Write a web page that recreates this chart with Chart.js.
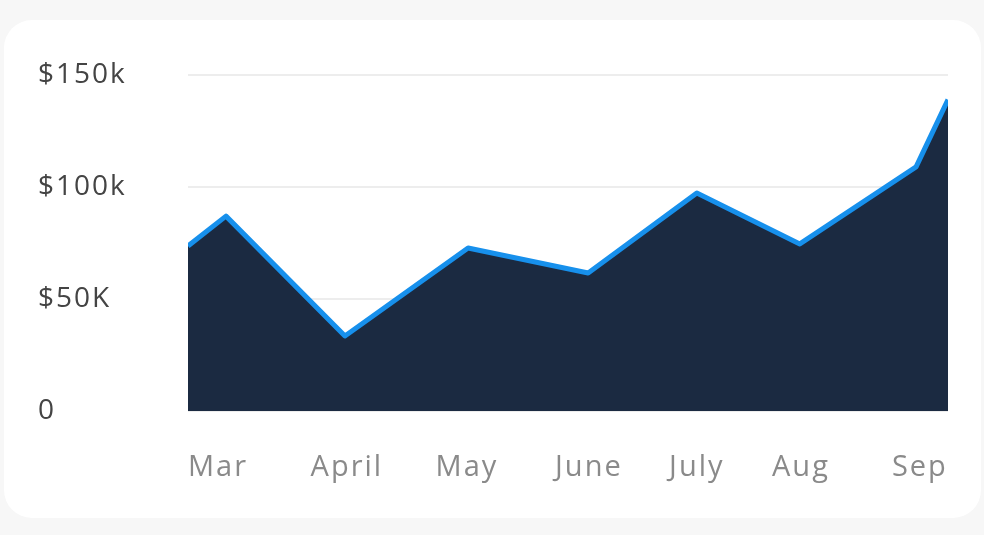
<!DOCTYPE html>
<html>
<head>
<meta charset="utf-8">
<script src="https://cdn.jsdelivr.net/npm/chart.js@4.4.1/dist/chart.umd.min.js"></script>
<style>
    html, body { margin: 0; padding: 0; background: #f7f7f7; }
    .card {
        position: absolute; left: 4px; top: 20px; width: 977px; height: 498px;
        background: #fff; border-radius: 28px;
    }
    .wrap { position: absolute; left: 0; top: 0; width: 984px; height: 535px; }
</style>
</head>
<body>
<div class="card"></div>
<div class="wrap"><canvas id="revenueChart" width="984" height="535"></canvas></div>
<script>
// position along the time axis (0 = start of Mar window, 20 = end of Sep)
const xPositions = [0, 1, 4.13, 7.37, 10.53, 13.39, 16.1, 19.16, 20];
const revenue = [73700, 87000, 33500, 72800, 61600, 97300, 74600, 109000, 139000];

const monthTicks = [0.79, 4.18, 7.34, 10.55, 13.39, 16.13, 19.26];
const monthLabels = ['Mar', 'April', 'May', 'June', 'July', 'Aug', 'Sep'];

const yTicks = [0, 50000, 100000, 150000];
const yLabels = ['0', '$50K', '$100k', '$150k'];

document.addEventListener('DOMContentLoaded', function () {
    const points = xPositions.map((x, i) => ({ x: x, y: revenue[i] }));

    // canvas has no css letter-spacing, so set it on the context
    const spacing = {
        id: 'spacing',
        beforeDraw(chart) { chart.ctx.letterSpacing = '2px'; }
    };

    new Chart(document.getElementById('revenueChart'), {
        type: 'line',
        data: {
            datasets: [{
                data: points,
                borderColor: '#1790ec',
                borderWidth: 5,
                borderJoinStyle: 'round',
                backgroundColor: '#1b2a41',
                fill: 'origin',
                tension: 0,
                pointRadius: 0
            }]
        },
        options: {
            responsive: false,
            animation: false,
            layout: { padding: { left: 38, right: 36, top: 75, bottom: 0 } },
            plugins: { legend: { display: false }, tooltip: { enabled: false } },
            scales: {
                x: {
                    type: 'linear',
                    min: 0,
                    max: 20,
                    afterFit: s => { s.height = 124; },
                    afterBuildTicks: s => { s.ticks = monthTicks.map(v => ({ value: v })); },
                    grid: { display: false },
                    border: { display: false },
                    ticks: {
                        autoSkip: false,
                        maxRotation: 0,
                        padding: 31,
                        color: '#8a8a8a',
                        font: { family: 'Open Sans', size: 29 },
                        callback: (v, i) => monthLabels[i]
                    }
                },
                y: {
                    min: 0,
                    max: 150000,
                    afterFit: s => { s.width = 150; },
                    afterBuildTicks: s => { s.ticks = yTicks.map(v => ({ value: v })); },
                    grid: { color: '#ededed', lineWidth: 2, drawTicks: false },
                    border: { display: false },
                    ticks: {
                        crossAlign: 'far',
                        padding: 0,
                        color: '#444',
                        font: { family: 'Open Sans', size: 28 },
                        callback: (v, i) => yLabels[i]
                    }
                }
            }
        },
        plugins: [spacing]
    });
});
</script>
</body>
</html>
